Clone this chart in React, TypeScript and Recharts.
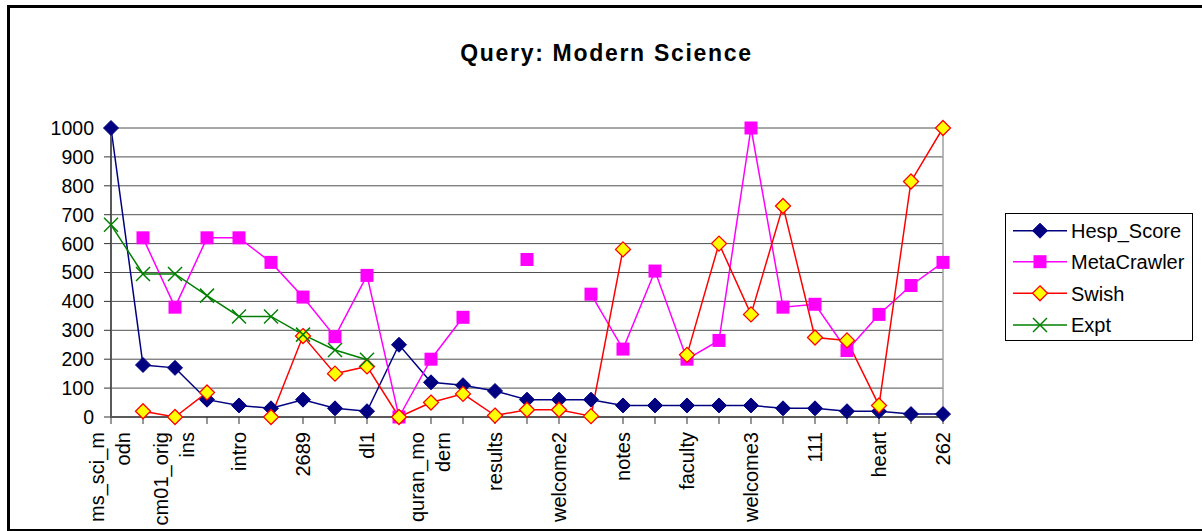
import React from "react";
import {
  LineChart,
  Line,
  XAxis,
  YAxis,
  CartesianGrid,
  Legend,
  ReferenceLine,
} from "recharts";

// ---- data ----
const CATEGORIES: string[] = [
  "ms_sci_modn", "", "cm01_origins", "", "intro", "", "2689", "", "dl1", "",
  "quran_modern", "", "results", "", "welcome2", "", "notes", "", "faculty", "",
  "welcome3", "", "111", "", "heart", "", "262",
];

const HESP_SCORE: (number | null)[] = [
  1000, 180, 170, 60, 40, 30, 60, 30, 20, 250, 120, 110, 90, 60, 60, 60, 40, 40,
  40, 40, 40, 30, 30, 20, 20, 10, 10,
];

const METACRAWLER: (number | null)[] = [
  null, 620, 380, 620, 620, 535, 415, 278, 490, 0, 200, 345, null, 545, null,
  425, 235, 505, 200, 265, 1000, 380, 390, 230, 355, 455, 535,
];

const SWISH: (number | null)[] = [
  null, 20, 0, 85, null, 0, 280, 150, 175, 0, 50, 80, 5, 25, 25, 3, 580, null,
  215, 600, 355, 730, 275, 265, 40, 815, 1000,
];

const EXPT: (number | null)[] = [
  665, 495, 495, 420, 348, 348, 285, 232, 198, null, null, null, null, null,
  null, null, null, null, null, null, null, null, null, null, null, null, null,
];

const Y_TICKS: number[] = [0, 100, 200, 300, 400, 500, 600, 700, 800, 900, 1000];

const TITLE = "Query: Modern Science";

const SERIES_NAMES = ["Hesp_Score", "MetaCrawler", "Swish", "Expt"];

const data = CATEGORIES.map((cat, i) => ({
  idx: i,
  cat,
  hesp: HESP_SCORE[i],
  meta: METACRAWLER[i],
  swish: SWISH[i],
  expt: EXPT[i],
}));

// ---- styling ----
const FONT = "'Liberation Sans', Arial, sans-serif";
const NAVY = "#000080";
const MAGENTA = "#FF00FF";
const RED = "#FF0000";
const YELLOW = "#FFFF00";
const GREEN = "#008000";

type MarkerKind = "diamondNavy" | "square" | "diamondYellow" | "cross";

function Marker({ kind, cx, cy }: { kind: MarkerKind; cx: number; cy: number }) {
  if (kind === "diamondNavy") {
    const r = 7.5;
    return (
      <path
        d={`M${cx},${cy - r}L${cx + r},${cy}L${cx},${cy + r}L${cx - r},${cy}Z`}
        fill={NAVY}
        stroke={NAVY}
        strokeWidth={1}
      />
    );
  }
  if (kind === "diamondYellow") {
    const r = 7.5;
    return (
      <path
        d={`M${cx},${cy - r}L${cx + r},${cy}L${cx},${cy + r}L${cx - r},${cy}Z`}
        fill={YELLOW}
        stroke={RED}
        strokeWidth={1.3}
      />
    );
  }
  if (kind === "square") {
    const s = 13;
    return <rect x={cx - s / 2} y={cy - s / 2} width={s} height={s} fill={MAGENTA} />;
  }
  const h = 7;
  return (
    <g stroke={GREEN} strokeWidth={1.5}>
      <line x1={cx - h} y1={cy - h} x2={cx + h} y2={cy + h} />
      <line x1={cx - h} y1={cy + h} x2={cx + h} y2={cy - h} />
    </g>
  );
}

const makeDot = (kind: MarkerKind) => (props: any) => {
  const { cx, cy, value, index } = props;
  if (value === null || value === undefined || cx == null || cy == null || isNaN(cy)) {
    return <g key={`e-${kind}-${index}`} />;
  }
  return (
    <g key={`d-${kind}-${index}`}>
      <Marker kind={kind} cx={cx} cy={cy} />
    </g>
  );
};

const SERIES: { key: string; name: string; color: string; kind: MarkerKind }[] = [
  { key: "hesp", name: SERIES_NAMES[0], color: NAVY, kind: "diamondNavy" },
  { key: "meta", name: SERIES_NAMES[1], color: MAGENTA, kind: "square" },
  { key: "swish", name: SERIES_NAMES[2], color: RED, kind: "diamondYellow" },
  { key: "expt", name: SERIES_NAMES[3], color: GREEN, kind: "cross" },
];

// ---- label wrapping ----
let measureCtx: CanvasRenderingContext2D | null = null;
function measure(s: string, font: string): number {
  try {
    if (!measureCtx) measureCtx = document.createElement("canvas").getContext("2d");
  } catch (e) {
    measureCtx = null;
  }
  if (!measureCtx) return s.length * 10.5;
  measureCtx.font = font;
  return measureCtx.measureText(s).width;
}

function wrapLabel(text: string, maxW: number, font: string): string[] {
  if (!text) return [];
  const lines: string[] = [];
  let cur = "";
  for (const ch of text) {
    if (cur && measure(cur + ch, font) > maxW) {
      lines.push(cur);
      cur = ch;
    } else {
      cur += ch;
    }
  }
  if (cur) lines.push(cur);
  return lines;
}

const X_FONT_SIZE = 20;

const XTick = (props: any) => {
  const { x, y, payload } = props;
  const label = CATEGORIES[payload.value] ?? "";
  const lines = wrapLabel(label, 96, `${X_FONT_SIZE}px ${FONT}`);
  const n = lines.length;
  if (!n) return <g />;
  const base = n === 1 ? 7 : 5.5;
  return (
    <g transform={`translate(${x},${y}) rotate(-90)`}>
      <text textAnchor="end" fontSize={X_FONT_SIZE} fontFamily={FONT} fill="#000">
        {lines.map((l, k) => (
          <tspan key={k} x={0} y={base + (k - (n - 1) / 2) * 26}>
            {l}
          </tspan>
        ))}
      </text>
    </g>
  );
};

const LegendBox = () => {
  const rowY = [17.7, 48.7, 80.3, 112];
  return (
    <svg width={188} height={128} style={{ display: "block" }}>
      <rect x={0.5} y={0.5} width={187} height={127} fill="#fff" stroke="#000" strokeWidth={1} />
      {SERIES.map((s, i) => (
        <g key={s.key}>
          <line x1={8} x2={62} y1={rowY[i]} y2={rowY[i]} stroke={s.color} strokeWidth={1.5} />
          <Marker kind={s.kind} cx={35} cy={rowY[i]} />
          <text
            x={66}
            y={rowY[i]}
            dy="0.36em"
            fontSize={20}
            fontFamily={FONT}
            fill="#000"
          >
            {s.name}
          </text>
        </g>
      ))}
    </svg>
  );
};

export default function App() {
  return (
    <div
      style={{
        position: "absolute",
        left: 0,
        top: 0,
        width: 1202,
        height: 531,
        overflow: "hidden",
        background: "#fff",
        fontFamily: FONT,
      }}
    >
      <div
        style={{
          position: "absolute",
          left: 7,
          top: 5,
          width: 1300,
          height: 526,
          boxSizing: "border-box",
          borderLeft: "3px solid #000",
          borderTop: "3px solid #000",
          borderBottom: "2px solid #000",
        }}
      />
      <div
        style={{
          position: "absolute",
          left: 0,
          top: 41.5,
          width: 1213,
          textAlign: "center",
          fontSize: 23,
          lineHeight: "23px",
          fontWeight: "bold",
          letterSpacing: 1.7,
          color: "#000",
          fontFamily: FONT,
        }}
      >
        {TITLE}
      </div>
      <div style={{ position: "absolute", left: 0, top: 0 }}>
        <LineChart
          width={1202}
          height={531}
          data={data}
          margin={{ top: 128, right: 259, left: 0, bottom: 0 }}
        >
          <CartesianGrid horizontal vertical={false} stroke="#505050" strokeWidth={1} />
          <XAxis
            dataKey="idx"
            type="category"
            height={114}
            interval={0}
            tickSize={7}
            tickMargin={8}
            tick={<XTick />}
            axisLine={{ stroke: "#5a5a5a", strokeWidth: 2 }}
            tickLine={{ stroke: "#333", strokeWidth: 1 }}
          />
          <YAxis
            type="number"
            domain={[0, 1000]}
            ticks={Y_TICKS}
            width={111}
            tickSize={7}
            tickMargin={10}
            interval={0}
            tick={{ fill: "#000", fontSize: 19.5, fontFamily: FONT }}
            axisLine={{ stroke: "#5a5a5a", strokeWidth: 2 }}
            tickLine={{ stroke: "#333", strokeWidth: 1 }}
          />
          <ReferenceLine x={26} stroke="#a0a0a0" strokeWidth={1.5} />
          {SERIES.map((s) => (
            <Line
              key={s.key}
              type="linear"
              dataKey={s.key}
              name={s.name}
              stroke={s.color}
              strokeWidth={1.5}
              dot={makeDot(s.kind)}
              activeDot={false}
              connectNulls={false}
              isAnimationActive={false}
            />
          ))}
          <Legend
            layout="vertical"
            align="center"
            verticalAlign="middle"
            wrapperStyle={{ left: 1005, top: 213, width: 188, height: 128 }}
            content={() => <LegendBox />}
          />
        </LineChart>
      </div>
    </div>
  );
}
